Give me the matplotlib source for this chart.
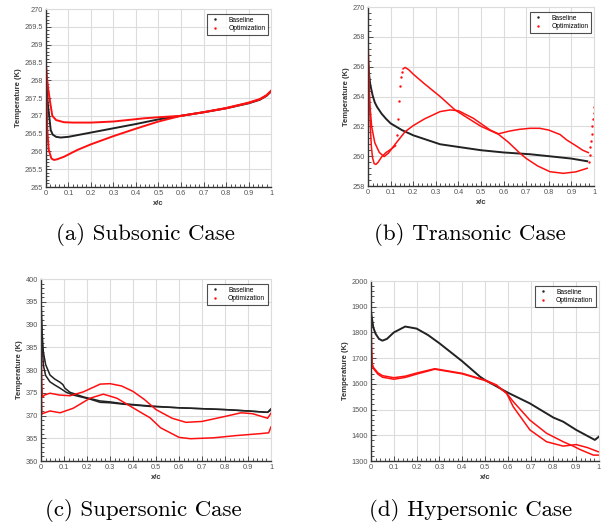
import matplotlib
matplotlib.use('Agg')
import matplotlib.pyplot as plt
from matplotlib.ticker import MultipleLocator, AutoMinorLocator, FuncFormatter

plt.rcParams['font.family'] = ['Liberation Sans', 'DejaVu Sans']

# ---------------- (a) subsonic ----------------
x_a_base = [0.0, 0.003, 0.008, 0.015, 0.021, 0.03, 0.045, 0.065, 0.1, 0.15, 0.2,
            0.3, 0.4, 0.5, 0.6, 0.7, 0.8, 0.9, 0.95, 0.98, 1.0]
t_a_base = [268.2, 267.9, 267.35, 266.95, 266.6, 266.47, 266.41, 266.39, 266.41, 266.47, 266.53,
            266.65, 266.77, 266.9, 267.0, 267.1, 267.21, 267.35, 267.45, 267.56, 267.68]
x_a_up = [0.0, 0.004, 0.01, 0.018, 0.028, 0.045, 0.08, 0.12, 0.2, 0.3, 0.436,
          0.5, 0.6, 0.7, 0.8, 0.9, 0.95, 0.98, 1.0]
t_a_up = [268.45, 268.1, 267.75, 267.4, 267.0, 266.88, 266.82, 266.81, 266.81, 266.84, 266.93,
          266.96, 267.0, 267.1, 267.21, 267.36, 267.46, 267.57, 267.7]
x_a_lo = [0.0, 0.002, 0.006, 0.012, 0.024, 0.036, 0.05, 0.08, 0.139, 0.2, 0.3, 0.4,
          0.5, 0.6, 0.7, 0.8, 0.9, 0.95, 0.98, 1.0]
t_a_lo = [268.45, 267.6, 266.6, 266.05, 265.8, 265.76, 265.78, 265.85, 266.04, 266.2, 266.43, 266.64,
          266.84, 267.0, 267.1, 267.22, 267.37, 267.47, 267.58, 267.7]

# ---------------- (b) transonic ----------------
x_b_base = [0.0, 0.002, 0.006, 0.01, 0.02, 0.03, 0.04, 0.06, 0.08, 0.1, 0.15, 0.2,
            0.319, 0.4, 0.5, 0.6, 0.717, 0.8, 0.9, 0.97]
t_b_base = [266.5, 266.0, 265.3, 264.8, 264.1, 263.6, 263.3, 262.85, 262.5, 262.2, 261.75, 261.4,
            260.8, 260.62, 260.4, 260.25, 260.13, 260.0, 259.84, 259.66]
x_b_le = [0.0, 0.002, 0.005, 0.01, 0.015, 0.02, 0.027, 0.035, 0.045, 0.06, 0.08, 0.1, 0.122]
t_b_le = [268.0, 266.5, 264.5, 262.0, 260.6, 259.9, 259.5, 259.45, 259.6, 259.95, 260.25, 260.45, 260.7]
x_b_jump = [0.128, 0.131, 0.136, 0.14, 0.145, 0.15]
t_b_jump = [261.4, 262.5, 263.7, 264.7, 265.3, 265.65]
x_b_aft = [0.155, 0.164, 0.18, 0.2, 0.25, 0.319, 0.385, 0.466, 0.5, 0.577, 0.62, 0.673,
           0.7, 0.75, 0.805, 0.864, 0.92, 0.97]
t_b_aft = [265.85, 265.95, 265.8, 265.5, 264.85, 264.0, 263.1, 262.32, 262.0, 261.47, 260.95, 260.19,
           259.85, 259.35, 258.96, 258.85, 258.95, 259.19]
x_b_rnd = [0.0, 0.003, 0.008, 0.016, 0.03, 0.05, 0.071, 0.09, 0.12, 0.164, 0.2, 0.25,
           0.319, 0.363, 0.4, 0.466, 0.54, 0.577, 0.628, 0.67, 0.717, 0.76, 0.8, 0.85,
           0.879, 0.92, 0.95, 0.975]
t_b_rnd = [268.0, 265.5, 263.5, 262.0, 260.9, 260.25, 259.97, 260.2, 260.8, 261.64, 262.05, 262.5,
           262.99, 263.1, 263.05, 262.54, 261.76, 261.5, 261.69, 261.8, 261.87, 261.87, 261.75, 261.45,
           261.09, 260.7, 260.4, 260.24]
x_b_te = [0.978, 0.981, 0.984, 0.987, 0.99, 0.993, 0.996, 0.999, 0.999]
t_b_te = [259.6, 260.1, 260.6, 261.0, 261.5, 262.0, 262.5, 262.9, 263.3]

# ---------------- (c) supersonic ----------------
x_c_bu = [0.0, 0.002, 0.005, 0.01, 0.02, 0.039, 0.06, 0.083, 0.095, 0.104, 0.126, 0.184,
          0.257, 0.3, 0.357, 0.474, 0.6, 0.7, 0.8, 0.9, 0.985, 1.0]
t_c_bu = [396.2, 392.0, 388.0, 384.0, 381.2, 378.9, 378.0, 377.3, 376.8, 376.0, 375.1, 374.1,
          373.2, 373.0, 372.6, 372.1, 371.7, 371.5, 371.3, 371.0, 370.7, 371.5]
x_c_bl = [0.0, 0.003, 0.01, 0.02, 0.039, 0.06, 0.083, 0.11, 0.14, 0.213, 0.257, 0.3,
          0.357, 0.474, 0.6, 0.7, 0.8, 0.9, 0.985, 1.0]
t_c_bl = [396.2, 388.0, 381.1, 378.8, 377.4, 376.7, 376.0, 375.1, 374.5, 373.6, 372.9, 372.8,
          372.5, 372.0, 371.7, 371.5, 371.3, 371.0, 370.7, 371.2]
x_c_ru = [0.0, 0.001, 0.003, 0.006, 0.015, 0.039, 0.08, 0.126, 0.184, 0.257, 0.3, 0.35,
          0.4, 0.45, 0.5, 0.57, 0.63, 0.7, 0.8, 0.87, 0.92, 0.985, 1.0]
t_c_ru = [393.0, 385.0, 377.0, 374.0, 374.5, 374.9, 374.5, 374.35, 375.2, 376.9, 377.0, 376.5,
          375.3, 373.5, 371.3, 369.4, 368.5, 368.7, 369.8, 370.6, 370.4, 369.4, 370.5]
x_c_rl = [0.0, 0.001, 0.002, 0.004, 0.01, 0.039, 0.083, 0.14, 0.213, 0.271, 0.33, 0.43,
          0.474, 0.52, 0.6, 0.65, 0.75, 0.85, 0.95, 0.99, 1.0]
t_c_rl = [393.0, 383.0, 374.0, 370.3, 370.5, 371.0, 370.6, 371.6, 373.8, 374.7, 373.8, 370.8,
          369.5, 367.3, 365.2, 364.9, 365.1, 365.6, 366.0, 366.2, 367.5]

# ---------------- (d) hypersonic ----------------
x_d_base = [0.0, 0.005, 0.01, 0.02, 0.035, 0.05, 0.07, 0.1, 0.15, 0.2, 0.25, 0.3, 0.4,
            0.478, 0.5, 0.6, 0.697, 0.8, 0.843, 0.9, 0.982, 1.0]
t_d_base = [1880, 1850, 1820, 1795, 1775, 1768, 1775, 1800, 1823, 1815, 1790, 1758, 1688,
            1628, 1615, 1566, 1524, 1469, 1453, 1421, 1382, 1395]
x_d_ra = [0.0, 0.002, 0.005, 0.01, 0.03, 0.05, 0.1, 0.15, 0.2, 0.28, 0.4, 0.5, 0.55,
          0.595, 0.624, 0.697, 0.77, 0.843, 0.9, 0.95, 0.997]
t_d_ra = [1900, 1750, 1680, 1665, 1643, 1632, 1624, 1630, 1642, 1659, 1641, 1615, 1596,
          1563, 1511, 1421, 1375, 1358, 1364, 1352, 1336]
x_d_rb = [0.0, 0.002, 0.005, 0.01, 0.03, 0.05, 0.1, 0.15, 0.2, 0.28, 0.4, 0.5, 0.55,
          0.595, 0.624, 0.697, 0.77, 0.843, 0.887, 0.916, 0.975, 1.0]
t_d_rb = [1900, 1740, 1675, 1660, 1638, 1626, 1618, 1625, 1638, 1657, 1639, 1613, 1594,
          1563, 1531, 1459, 1408, 1375, 1358, 1345, 1323, 1323]

RED = '#ff1010'
BLK = '#222222'


def style(ax, ylo, yhi, ystep):
    ax.set_xlim(0, 1)
    ax.set_ylim(ylo, yhi)
    ax.xaxis.set_major_locator(MultipleLocator(0.1))
    ax.yaxis.set_major_locator(MultipleLocator(ystep))
    ax.xaxis.set_minor_locator(AutoMinorLocator(5))
    ax.yaxis.set_minor_locator(AutoMinorLocator(5))
    fmt = FuncFormatter(lambda v, p: '%g' % round(v, 3))
    ax.xaxis.set_major_formatter(fmt)
    ax.yaxis.set_major_formatter(fmt)
    ax.grid(True, which='major', color='#dcdcdc', lw=0.8)
    ax.set_axisbelow(True)
    ax.tick_params(which='both', direction='in', top=False, right=False,
                   color='#333333', width=0.6, labelsize=5.3, labelcolor='#555555', pad=2)
    ax.tick_params(which='major', length=3.5)
    ax.tick_params(which='minor', length=2)
    for s in ['left', 'bottom']:
        ax.spines[s].set_color('#333333')
        ax.spines[s].set_linewidth(1.0)
    for s in ['top', 'right']:
        ax.spines[s].set_color('#dcdcdc')
        ax.spines[s].set_linewidth(0.8)
    ax.set_xlabel('x/c', fontsize=5.5, fontweight='bold', labelpad=2, color='#333333')
    ax.set_ylabel('Temperature (K)', fontsize=5.5, fontweight='bold', labelpad=2, color='#333333')


def legend(ax):
    h1, = ax.plot([], [], '.', color=BLK, ms=1.5)
    h2, = ax.plot([], [], '.', color=RED, ms=1.5)
    lg = ax.legend([h1, h2], ['Baseline', 'Optimization'], loc='upper right',
                   fontsize=4.8, frameon=True, fancybox=False, borderpad=0.35,
                   handlelength=1.6, handletextpad=1.2, labelspacing=0.25,
                   bbox_to_anchor=(0.985, 0.97), borderaxespad=0)
    lg.get_frame().set_edgecolor('#222222')
    lg.get_frame().set_linewidth(0.8)


fig = plt.figure(figsize=(6.06, 5.24), dpi=100)
ax_a = fig.add_axes([0.0759, 0.6431, 0.3713, 0.3397])
ax_b = fig.add_axes([0.6073, 0.6450, 0.3729, 0.3416])
ax_c = fig.add_axes([0.0677, 0.1202, 0.3795, 0.3473])
ax_d = fig.add_axes([0.6122, 0.1202, 0.3762, 0.3435])

lw = 1.4
# (a)
ax_a.plot(x_a_base, t_a_base, color=BLK, lw=lw)
ax_a.plot(x_a_up, t_a_up, color=RED, lw=lw)
ax_a.plot(x_a_lo, t_a_lo, color=RED, lw=lw)
style(ax_a, 265, 270, 0.5)
legend(ax_a)

# (b)
ax_b.plot(x_b_base, t_b_base, color=BLK, lw=lw)
ax_b.plot(x_b_le, t_b_le, color=RED, lw=1.1)
ax_b.plot(x_b_jump, t_b_jump, '.', color=RED, ms=1.5)
ax_b.plot(x_b_aft, t_b_aft, color=RED, lw=1.1)
ax_b.plot(x_b_rnd, t_b_rnd, color=RED, lw=1.1)
ax_b.plot(x_b_te, t_b_te, '.', color=RED, ms=1.5)
style(ax_b, 258, 270, 2)
legend(ax_b)

# (c)
ax_c.plot(x_c_bu, t_c_bu, color=BLK, lw=1.1)
ax_c.plot(x_c_bl, t_c_bl, color=BLK, lw=1.1)
ax_c.plot(x_c_ru, t_c_ru, color=RED, lw=1.1)
ax_c.plot(x_c_rl, t_c_rl, color=RED, lw=1.1)
style(ax_c, 360, 400, 5)
legend(ax_c)

# (d)
ax_d.plot(x_d_base, t_d_base, color=BLK, lw=lw)
ax_d.plot(x_d_ra, t_d_ra, color=RED, lw=1.1)
ax_d.plot(x_d_rb, t_d_rb, color=RED, lw=1.1)
style(ax_d, 1300, 2000, 100)
legend(ax_d)

cap = dict(fontsize=16.5, family='cmr10', ha='center', va='center')
fig.text(145 / 606, 1 - 235 / 524, '(a) Subsonic Case', **cap)
fig.text(470 / 606, 1 - 235 / 524, '(b) Transonic Case', **cap)
fig.text(143 / 606, 1 - 511 / 524, '(c) Supersonic Case', **cap)
fig.text(471 / 606, 1 - 511 / 524, '(d) Hypersonic Case', **cap)

fig.savefig('out.png', dpi=100)
